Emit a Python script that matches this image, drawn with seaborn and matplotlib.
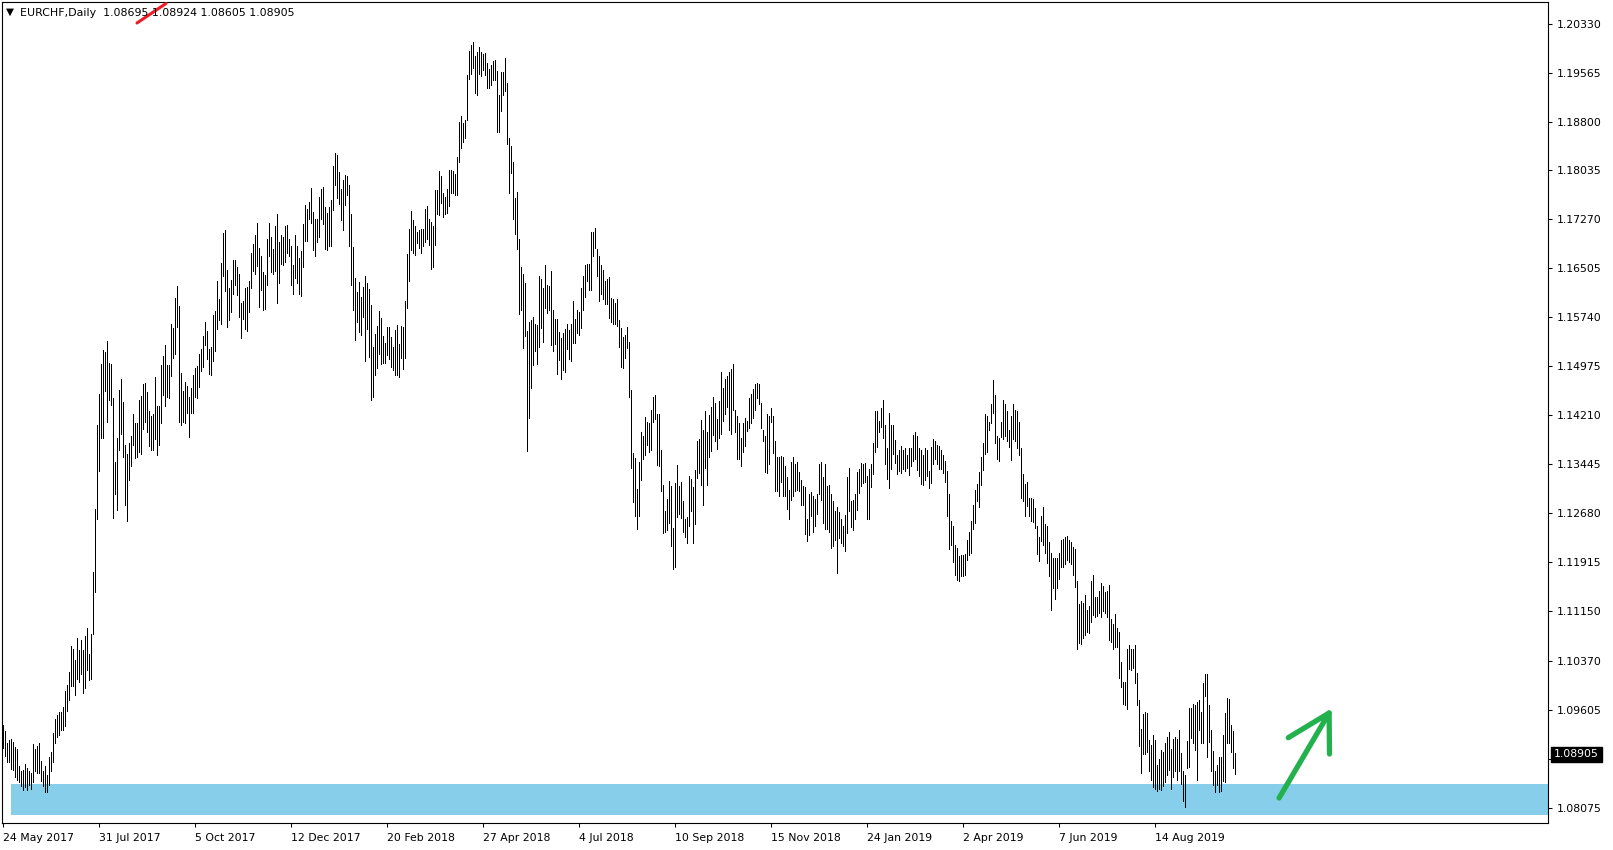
import numpy as np
import pandas as pd
import matplotlib
matplotlib.use("Agg")
import matplotlib.pyplot as plt
import matplotlib.transforms as mtransforms
from matplotlib.lines import Line2D
from matplotlib.patches import Rectangle
import seaborn as sns

symbol = "EURCHF,Daily"
last_ohlc = ["1.08695", "1.08924", "1.08605", "1.08905"]
last_price = 1.08905

# daily highs / lows
high_1 = [1.0937, 1.0927, 1.0909, 1.0913, 1.0915, 1.0910, 1.0902, 1.0899, 1.0872, 1.0865,
          1.0866, 1.0876, 1.0870, 1.0865, 1.0862, 1.0907, 1.0899, 1.0904, 1.0908, 1.0880,
          1.0865, 1.0872, 1.0859, 1.0887, 1.0895, 1.0924, 1.0946, 1.0952, 1.0957, 1.0957,
          1.0964, 1.0990, 1.0999, 1.1019, 1.1060, 1.1056, 1.1038, 1.1073, 1.1054, 1.1070,
          1.1054, 1.1076, 1.1088, 1.1048, 1.1079, 1.1175, 1.1274, 1.1406, 1.1454, 1.1501,
          1.1523, 1.1519, 1.1537, 1.1502, 1.1501, 1.1447, 1.1347, 1.1386, 1.1460, 1.1478,
          1.1442, 1.1375, 1.1360, 1.1377, 1.1388, 1.1423, 1.1409, 1.1409, 1.1445]
low_1 = [1.0900, 1.0888, 1.0878, 1.0879, 1.0867, 1.0866, 1.0855, 1.0851, 1.0847, 1.0841,
         1.0835, 1.0840, 1.0835, 1.0842, 1.0837, 1.0848, 1.0864, 1.0862, 1.0862, 1.0849,
         1.0841, 1.0832, 1.0831, 1.0843, 1.0865, 1.0878, 1.0909, 1.0918, 1.0921, 1.0929,
         1.0928, 1.0935, 1.0958, 1.0976, 1.0997, 1.0997, 1.0983, 1.1009, 1.1004, 1.1016,
         1.0986, 1.0994, 1.1022, 1.1007, 1.1009, 1.1079, 1.1144, 1.1259, 1.1334, 1.1385,
         1.1385, 1.1458, 1.1411, 1.1444, 1.1437, 1.1260, 1.1298, 1.1272, 1.1367, 1.1391,
         1.1356, 1.1280, 1.1256, 1.1319, 1.1342, 1.1375, 1.1354, 1.1356, 1.1364]

high_2 = [1.1451, 1.1469, 1.1471, 1.1457, 1.1428, 1.1420, 1.1422, 1.1481, 1.1435, 1.1436,
          1.1500, 1.1513, 1.1530, 1.1500, 1.1500, 1.1564, 1.1557, 1.1604, 1.1623, 1.1591,
          1.1487, 1.1459, 1.1473, 1.1467, 1.1450, 1.1464, 1.1483, 1.1495, 1.1498, 1.1517,
          1.1524, 1.1545, 1.1566, 1.1553, 1.1524, 1.1527, 1.1578, 1.1584, 1.1630, 1.1603,
          1.1659, 1.1705, 1.1711, 1.1648, 1.1619, 1.1633, 1.1664, 1.1663, 1.1652, 1.1641,
          1.1597, 1.1600, 1.1619, 1.1621, 1.1630, 1.1674, 1.1689, 1.1703, 1.1722, 1.1682,
          1.1670, 1.1645, 1.1640, 1.1697, 1.1721]
low_2 = [1.1360, 1.1399, 1.1410, 1.1394, 1.1372, 1.1366, 1.1366, 1.1384, 1.1358, 1.1375,
         1.1408, 1.1453, 1.1436, 1.1449, 1.1448, 1.1482, 1.1511, 1.1516, 1.1558, 1.1410,
         1.1406, 1.1410, 1.1408, 1.1425, 1.1387, 1.1425, 1.1425, 1.1449, 1.1448, 1.1465,
         1.1490, 1.1497, 1.1530, 1.1509, 1.1486, 1.1483, 1.1505, 1.1522, 1.1555, 1.1569,
         1.1564, 1.1638, 1.1615, 1.1558, 1.1569, 1.1582, 1.1611, 1.1624, 1.1609, 1.1575,
         1.1541, 1.1572, 1.1555, 1.1553, 1.1582, 1.1620, 1.1647, 1.1641, 1.1654, 1.1590,
         1.1616, 1.1585, 1.1587, 1.1624, 1.1670]

high_3 = [1.1699, 1.1681, 1.1716, 1.1736, 1.1692, 1.1703, 1.1700, 1.1717, 1.1719, 1.1697,
          1.1685, 1.1656, 1.1703, 1.1686, 1.1667, 1.1677, 1.1720, 1.1750, 1.1744, 1.1754,
          1.1776, 1.1738, 1.1728, 1.1728, 1.1762, 1.1774, 1.1778, 1.1746, 1.1737, 1.1747,
          1.1757, 1.1811, 1.1831, 1.1827, 1.1801, 1.1775, 1.1789, 1.1797, 1.1795, 1.1781,
          1.1736, 1.1684, 1.1636, 1.1614, 1.1629, 1.1606, 1.1622, 1.1639, 1.1627, 1.1618,
          1.1593, 1.1528, 1.1548, 1.1561, 1.1584, 1.1573, 1.1545, 1.1534, 1.1558, 1.1559,
          1.1543, 1.1528, 1.1554, 1.1562, 1.1532]
low_3 = [1.1644, 1.1641, 1.1647, 1.1597, 1.1627, 1.1658, 1.1656, 1.1661, 1.1674, 1.1669,
         1.1624, 1.1611, 1.1636, 1.1628, 1.1610, 1.1608, 1.1653, 1.1694, 1.1694, 1.1728,
         1.1722, 1.1679, 1.1669, 1.1691, 1.1699, 1.1728, 1.1720, 1.1681, 1.1679, 1.1685,
         1.1685, 1.1742, 1.1781, 1.1760, 1.1751, 1.1726, 1.1710, 1.1750, 1.1765, 1.1685,
         1.1625, 1.1586, 1.1539, 1.1566, 1.1551, 1.1546, 1.1575, 1.1506, 1.1555, 1.1512,
         1.1444, 1.1449, 1.1484, 1.1495, 1.1516, 1.1501, 1.1502, 1.1502, 1.1515, 1.1508,
         1.1497, 1.1492, 1.1484, 1.1483, 1.1481]

high_4 = [1.1560, 1.1559, 1.1600, 1.1673, 1.1712, 1.1740, 1.1726, 1.1716, 1.1708, 1.1710,
          1.1712, 1.1712, 1.1743, 1.1748, 1.1728, 1.1723, 1.1716, 1.1773, 1.1773, 1.1803,
          1.1795, 1.1769, 1.1762, 1.1774, 1.1804, 1.1804, 1.1803, 1.1798, 1.1824, 1.1879,
          1.1889, 1.1877, 1.1883, 1.1953, 1.1990, 1.2000, 1.2004, 1.1983, 1.1989, 1.1997,
          1.1988, 1.1985, 1.1987, 1.1972, 1.1962, 1.1969, 1.1975, 1.1977, 1.1959, 1.1921,
          1.1958, 1.1957, 1.1979, 1.1940, 1.1854, 1.1841, 1.1817, 1.1761, 1.1770, 1.1696,
          1.1652, 1.1642, 1.1628, 1.1553, 1.1567]
low_4 = [1.1510, 1.1493, 1.1510, 1.1589, 1.1630, 1.1679, 1.1675, 1.1671, 1.1690, 1.1682,
         1.1675, 1.1686, 1.1692, 1.1697, 1.1687, 1.1649, 1.1652, 1.1687, 1.1735, 1.1734,
         1.1752, 1.1730, 1.1736, 1.1737, 1.1748, 1.1769, 1.1769, 1.1765, 1.1765, 1.1816,
         1.1838, 1.1848, 1.1855, 1.1882, 1.1946, 1.1955, 1.1963, 1.1924, 1.1921, 1.1954,
         1.1951, 1.1960, 1.1953, 1.1933, 1.1933, 1.1937, 1.1945, 1.1945, 1.1864, 1.1864,
         1.1897, 1.1921, 1.1927, 1.1845, 1.1769, 1.1800, 1.1728, 1.1704, 1.1681, 1.1579,
         1.1586, 1.1526, 1.1544, 1.1365, 1.1416]

high_5 = [1.1570, 1.1574, 1.1564, 1.1562, 1.1639, 1.1634, 1.1619, 1.1656, 1.1625, 1.1623,
          1.1647, 1.1586, 1.1572, 1.1571, 1.1551, 1.1541, 1.1550, 1.1556, 1.1564, 1.1554,
          1.1564, 1.1600, 1.1571, 1.1585, 1.1583, 1.1619, 1.1639, 1.1656, 1.1658, 1.1658,
          1.1708, 1.1708, 1.1713, 1.1681, 1.1669, 1.1655, 1.1648, 1.1631, 1.1634, 1.1637,
          1.1604, 1.1603, 1.1597, 1.1603, 1.1570, 1.1557, 1.1543, 1.1546, 1.1558, 1.1536,
          1.1461, 1.1361, 1.1354, 1.1305, 1.1347, 1.1394, 1.1388, 1.1418, 1.1410, 1.1408,
          1.1429, 1.1450, 1.1453, 1.1423]
low_5 = [1.1463, 1.1500, 1.1521, 1.1501, 1.1527, 1.1557, 1.1535, 1.1589, 1.1580, 1.1585,
         1.1530, 1.1522, 1.1532, 1.1486, 1.1507, 1.1478, 1.1492, 1.1488, 1.1524, 1.1508,
         1.1505, 1.1534, 1.1533, 1.1549, 1.1547, 1.1557, 1.1585, 1.1605, 1.1630, 1.1617,
         1.1617, 1.1670, 1.1682, 1.1638, 1.1600, 1.1611, 1.1602, 1.1594, 1.1594, 1.1573,
         1.1566, 1.1564, 1.1563, 1.1561, 1.1528, 1.1496, 1.1494, 1.1510, 1.1526, 1.1449,
         1.1338, 1.1285, 1.1264, 1.1243, 1.1263, 1.1319, 1.1352, 1.1359, 1.1374, 1.1363,
         1.1367, 1.1410, 1.1415, 1.1343]

high_6 = [1.1423, 1.1367, 1.1312, 1.1271, 1.1290, 1.1318, 1.1310, 1.1245, 1.1315, 1.1343,
          1.1310, 1.1316, 1.1287, 1.1258, 1.1262, 1.1326, 1.1321, 1.1308, 1.1335, 1.1381,
          1.1384, 1.1414, 1.1398, 1.1428, 1.1395, 1.1421, 1.1433, 1.1450, 1.1440, 1.1415,
          1.1443, 1.1489, 1.1463, 1.1477, 1.1482, 1.1488, 1.1493, 1.1501, 1.1429, 1.1419,
          1.1409, 1.1386, 1.1409, 1.1417, 1.1412, 1.1447, 1.1454, 1.1462, 1.1469, 1.1471,
          1.1469, 1.1440, 1.1398, 1.1388, 1.1423, 1.1420, 1.1432, 1.1419, 1.1381, 1.1356,
          1.1356, 1.1357, 1.1355, 1.1341, 1.1325, 1.1304]
low_6 = [1.1342, 1.1302, 1.1237, 1.1239, 1.1241, 1.1252, 1.1216, 1.1181, 1.1184, 1.1262,
         1.1267, 1.1260, 1.1239, 1.1230, 1.1221, 1.1247, 1.1271, 1.1221, 1.1251, 1.1323,
         1.1330, 1.1311, 1.1280, 1.1338, 1.1311, 1.1356, 1.1365, 1.1390, 1.1380, 1.1368,
         1.1386, 1.1391, 1.1412, 1.1422, 1.1434, 1.1397, 1.1391, 1.1429, 1.1395, 1.1353,
         1.1352, 1.1341, 1.1364, 1.1372, 1.1396, 1.1401, 1.1408, 1.1416, 1.1429, 1.1448,
         1.1438, 1.1401, 1.1381, 1.1332, 1.1330, 1.1344, 1.1411, 1.1361, 1.1303, 1.1303,
         1.1294, 1.1316, 1.1295, 1.1295, 1.1274, 1.1259]

high_7 = [1.1348, 1.1355, 1.1345, 1.1348, 1.1332, 1.1319, 1.1310, 1.1308, 1.1258, 1.1297,
          1.1301, 1.1294, 1.1290, 1.1297, 1.1344, 1.1348, 1.1324, 1.1344, 1.1310, 1.1311,
          1.1298, 1.1286, 1.1271, 1.1278, 1.1269, 1.1259, 1.1247, 1.1265, 1.1324, 1.1339,
          1.1287, 1.1289, 1.1297, 1.1332, 1.1337, 1.1346, 1.1344, 1.1346, 1.1326, 1.1336,
          1.1345, 1.1378, 1.1428, 1.1428, 1.1412, 1.1432, 1.1444, 1.1406, 1.1369, 1.1425,
          1.1406, 1.1406, 1.1382, 1.1359, 1.1366, 1.1373, 1.1366, 1.1369, 1.1358, 1.1369,
          1.1369, 1.1390, 1.1394, 1.1388, 1.1369]
low_7 = [1.1288, 1.1294, 1.1303, 1.1304, 1.1303, 1.1280, 1.1280, 1.1235, 1.1224, 1.1233,
         1.1264, 1.1239, 1.1247, 1.1267, 1.1297, 1.1289, 1.1253, 1.1243, 1.1243, 1.1239,
         1.1213, 1.1216, 1.1225, 1.1174, 1.1229, 1.1221, 1.1217, 1.1208, 1.1237, 1.1271,
         1.1246, 1.1241, 1.1259, 1.1272, 1.1299, 1.1310, 1.1315, 1.1316, 1.1259, 1.1259,
         1.1309, 1.1329, 1.1364, 1.1371, 1.1394, 1.1403, 1.1385, 1.1345, 1.1321, 1.1307,
         1.1336, 1.1360, 1.1346, 1.1329, 1.1333, 1.1330, 1.1336, 1.1333, 1.1338, 1.1328,
         1.1342, 1.1350, 1.1352, 1.1335, 1.1326]

high_8 = [1.1366, 1.1358, 1.1369, 1.1367, 1.1333, 1.1371, 1.1384, 1.1380, 1.1375, 1.1373,
          1.1367, 1.1359, 1.1350, 1.1334, 1.1298, 1.1256, 1.1247, 1.1218, 1.1213, 1.1200,
          1.1203, 1.1203, 1.1204, 1.1225, 1.1239, 1.1256, 1.1280, 1.1304, 1.1314, 1.1332,
          1.1355, 1.1378, 1.1422, 1.1420, 1.1411, 1.1439, 1.1476, 1.1452, 1.1389, 1.1385,
          1.1410, 1.1445, 1.1439, 1.1427, 1.1397, 1.1420, 1.1439, 1.1429, 1.1428, 1.1410,
          1.1369, 1.1329, 1.1314, 1.1317, 1.1292, 1.1291, 1.1290, 1.1276, 1.1247, 1.1231,
          1.1264, 1.1278, 1.1251, 1.1248, 1.1222, 1.1205, 1.1197, 1.1197, 1.1197, 1.1206]
low_8 = [1.1313, 1.1312, 1.1319, 1.1326, 1.1307, 1.1315, 1.1345, 1.1353, 1.1344, 1.1337,
         1.1336, 1.1330, 1.1316, 1.1264, 1.1211, 1.1218, 1.1192, 1.1171, 1.1163, 1.1161,
         1.1169, 1.1169, 1.1171, 1.1195, 1.1202, 1.1206, 1.1243, 1.1253, 1.1287, 1.1278,
         1.1312, 1.1335, 1.1360, 1.1364, 1.1397, 1.1408, 1.1424, 1.1377, 1.1353, 1.1349,
         1.1387, 1.1384, 1.1389, 1.1380, 1.1371, 1.1351, 1.1384, 1.1381, 1.1369, 1.1359,
         1.1292, 1.1286, 1.1263, 1.1279, 1.1264, 1.1255, 1.1254, 1.1245, 1.1204, 1.1193,
         1.1224, 1.1218, 1.1206, 1.1190, 1.1169, 1.1117, 1.1150, 1.1134, 1.1150, 1.1165]

high_9 = [1.1225, 1.1228, 1.1230, 1.1232, 1.1225, 1.1222, 1.1215, 1.1212, 1.1161, 1.1126,
          1.1131, 1.1127, 1.1140, 1.1117, 1.1123, 1.1161, 1.1171, 1.1137, 1.1137, 1.1146,
          1.1158, 1.1154, 1.1144, 1.1146, 1.1155, 1.1102, 1.1094, 1.1110, 1.1088, 1.1082,
          1.1035, 1.1004, 1.1004, 1.1055, 1.1062, 1.1056, 1.1055, 1.1062, 1.1018, 1.0976,
          1.0931, 1.0954, 1.0957, 1.0955, 1.0913, 1.0906, 1.0921, 1.0913, 1.0874, 1.0884,
          1.0897, 1.0895, 1.0908, 1.0918, 1.0926, 1.0899, 1.0914, 1.0918, 1.0914, 1.0929,
          1.0893, 1.0865, 1.0858, 1.0911, 1.0963, 1.0963, 1.0970, 1.0968, 1.0973, 1.0975,
          1.0957, 1.1002, 1.1017, 1.1016, 1.0968, 1.0929, 1.0896, 1.0865, 1.0874, 1.0887,
          1.0886, 1.0921, 1.0955, 1.0979, 1.0977, 1.0936, 1.0927, 1.0893]
low_9 = [1.1184, 1.1184, 1.1189, 1.1194, 1.1192, 1.1188, 1.1171, 1.1153, 1.1055, 1.1064,
         1.1063, 1.1072, 1.1077, 1.1082, 1.1081, 1.1097, 1.1108, 1.1106, 1.1107, 1.1111,
         1.1106, 1.1115, 1.1111, 1.1106, 1.1070, 1.1067, 1.1055, 1.1059, 1.1058, 1.1010,
         1.0996, 1.0969, 1.0968, 1.0961, 1.1024, 1.1022, 1.1026, 1.1002, 1.0968, 1.0904,
         1.0861, 1.0891, 1.0891, 1.0895, 1.0865, 1.0851, 1.0839, 1.0836, 1.0833, 1.0837,
         1.0835, 1.0841, 1.0848, 1.0858, 1.0866, 1.0837, 1.0856, 1.0864, 1.0851, 1.0864,
         1.0845, 1.0818, 1.0809, 1.0870, 1.0871, 1.0916, 1.0909, 1.0898, 1.0851, 1.0929,
         1.0909, 1.0908, 1.0982, 1.0887, 1.0910, 1.0864, 1.0843, 1.0831, 1.0843, 1.0831,
         1.0834, 1.0849, 1.0848, 1.0908, 1.0908, 1.0895, 1.0870, 1.0860]

date_labels = ["24 May 2017", "31 Jul 2017", "5 Oct 2017", "12 Dec 2017", "20 Feb 2018",
               "27 Apr 2018", "4 Jul 2018", "10 Sep 2018", "15 Nov 2018", "24 Jan 2019",
               "2 Apr 2019", "7 Jun 2019", "14 Aug 2019"]
bars_per_label = 48

price_ticks = [1.20330, 1.19565, 1.18800, 1.18035, 1.17270, 1.16505, 1.15740, 1.14975,
               1.14210, 1.13445, 1.12680, 1.11915, 1.11150, 1.10370, 1.09605, 1.08840,
               1.08075]

# support zone and the hand drawn arrow (bar index / price)
zone_low, zone_high = 1.07958, 1.08443
zone_start = 3.85
arrow_x = [637.9, 662.9, 642.5]
arrow_y = [1.08224, 1.09553, 1.09167]
barb_x = [662.9, 663.1]
barb_y = [1.09553, 1.08912]

highs = np.array(high_1 + high_2 + high_3 + high_4 + high_5 + high_6 + high_7 + high_8 + high_9)
lows = np.array(low_1 + low_2 + low_3 + low_4 + low_5 + low_6 + low_7 + low_8 + low_9)
n = min(len(highs), len(lows))
bars = pd.DataFrame({
    "bar": np.repeat(np.arange(n), 2),
    "price": np.column_stack([lows[:n], highs[:n]]).ravel(),
})

sns.set_theme(style="white")
plt.rcParams["font.family"] = ["DejaVu Sans"]

W, H = 1613, 850
fig = plt.figure(figsize=(W / 100, H / 100), dpi=100)
ax = fig.add_axes([2 / W, 1 - 823 / H, 1546 / W, 821 / H])

ax.add_patch(Rectangle((zone_start, zone_low), 800, zone_high - zone_low,
                       facecolor="#87CEEB", edgecolor="none", zorder=1))

sns.lineplot(data=bars, x="bar", y="price", units="bar", estimator=None, sort=False,
             color="black", linewidth=0.5, antialiased=False, ax=ax, zorder=2)

ax.plot(arrow_x, arrow_y, color="#22B14C", lw=3.8, solid_capstyle="round",
        solid_joinstyle="round", zorder=4)
ax.plot(barb_x, barb_y, color="#22B14C", lw=3.8, solid_capstyle="round", zorder=4)

ax.set_xlim(-0.65, 772.35)
ax.set_ylim(1.07833, 1.20669)
ax.set_xlabel("")
ax.set_ylabel("")

ax.set_xticks(np.arange(len(date_labels)) * bars_per_label)
ax.set_xticklabels(date_labels, ha="left")
ax.yaxis.tick_right()
ax.set_yticks(price_ticks)
ax.set_yticklabels([f"{v:.5f}" for v in price_ticks])
ax.tick_params(axis="both", direction="out", length=3, width=0.75, color="black",
               labelsize=7.8, labelcolor="black")
ax.tick_params(axis="x", pad=4.5, bottom=True)
ax.tick_params(axis="y", pad=3, right=True, left=False)
for sp in ax.spines.values():
    sp.set_visible(True)
    sp.set_color("black")
    sp.set_linewidth(0.8)

# current price box on the right scale
price_tf = mtransforms.blended_transform_factory(ax.transAxes, ax.transData)
ax.text(1.0 + 6 / 1546, last_price, f"{last_price:.5f}", transform=price_tf,
        color="white", fontsize=7.8, va="center", ha="left", clip_on=False, zorder=6,
        bbox=dict(boxstyle="square,pad=0.25", facecolor="black", edgecolor="black"))

# header
fig.text(6 / W, 1 - 12 / H, "\u25BC", fontsize=7.5, va="center", ha="left", color="black")
fig.text(20.5 / W, 1 - 12.5 / H, symbol + "  " + " ".join(last_ohlc),
         fontsize=7.9, va="center", ha="left", color="black")
fig.add_artist(Line2D([137 / W, 166 / W], [1 - 23 / H, 1 - 3.5 / H],
                      transform=fig.transFigure, color="#ED1C24", lw=2.2,
                      solid_capstyle="round"))

fig.savefig("out.png", dpi=100)
